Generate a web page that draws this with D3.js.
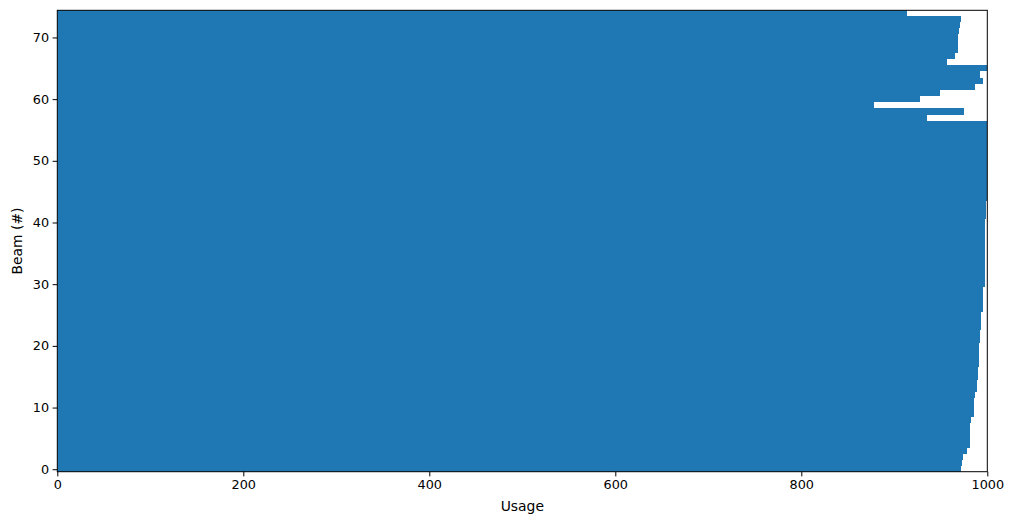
<!DOCTYPE html>
<html>
<head>
<meta charset="utf-8">
<script src="https://cdn.jsdelivr.net/npm/d3@7"></script>
<style>
  body { margin: 0; background: #fff; }
  svg text { font-family: "DejaVu Sans", sans-serif; }
</style>
</head>
<body>
<svg id="chart" width="1014" height="525"></svg>
<script>
// Usage per beam, beam index = position in the array (0..74)
var beams = d3.range(75);
var usage = [
    972, 973, 974, 978, 981, 981, 981, 981, 982, 986,
    986, 986, 987, 989, 989, 990, 990, 991, 991, 991,
    991, 992, 992, 993, 993, 993, 995, 995, 995, 995,
    997, 997, 997, 998, 998, 998, 998, 998, 998, 998,
    998, 999, 999, 999, 1000, 1000, 1000, 1000, 1000, 1000,
    1000, 1000, 1000, 1000, 1000, 1000, 1000, 935, 975, 878,
    928, 949, 987, 995, 992, 1000, 957, 965, 968, 968,
    969, 970, 971, 972, 914
];
var xTicks = [0, 200, 400, 600, 800, 1000];
var yTicks = [0, 10, 20, 30, 40, 50, 60, 70];

var width = 1014, height = 525;
var margin = {top: 10.3, right: 26.7, bottom: 53.3, left: 57.3};
var tickFontSize = '12.8px';
var labelFontSize = '13.9px';
var barColor = '#1f77b4';

var svg = d3.select('#chart');

var x = d3.scaleLinear()
    .domain([0, 1000])
    .range([margin.left, width - margin.right]);
var y = d3.scaleLinear()
    .domain([-0.4, 74.4])
    .range([height - margin.bottom, margin.top]);

// clip bars to the axes box, like matplotlib does
svg.append('defs').append('clipPath')
    .attr('id', 'plot-clip')
    .append('rect')
    .attr('x', margin.left)
    .attr('y', margin.top)
    .attr('width', width - margin.left - margin.right)
    .attr('height', height - margin.top - margin.bottom);

svg.append('g')
    .attr('clip-path', 'url(#plot-clip)')
    .selectAll('rect')
    .data(beams)
    .join('rect')
    .attr('x', x(0))
    .attr('y', function(d) { return y(d + 0.5); })
    .attr('width', function(d) { return x(usage[d]) - x(0); })
    .attr('height', function(d) { return y(d - 0.5) - y(d + 0.5); })
    .attr('fill', barColor)
    .attr('shape-rendering', 'crispEdges');

var xAxis = svg.append('g')
    .attr('transform', 'translate(0,' + (height - margin.bottom) + ')')
    .call(d3.axisBottom(x).tickValues(xTicks).tickFormat(d3.format('d'))
        .tickSizeInner(4.7).tickSizeOuter(0).tickPadding(3.5));
var yAxis = svg.append('g')
    .attr('transform', 'translate(' + margin.left + ',0)')
    .call(d3.axisLeft(y).tickValues(yTicks).tickFormat(d3.format('d'))
        .tickSizeInner(4.7).tickSizeOuter(0).tickPadding(3.5));

[xAxis, yAxis].forEach(function(g) {
    g.select('.domain').remove();
    g.selectAll('.tick line').attr('stroke', '#000').attr('stroke-width', 1);
    g.selectAll('.tick text')
        .attr('fill', '#000')
        .style('font-size', tickFontSize)
        .style('font-family', '"DejaVu Sans", sans-serif');
});

// axes frame
svg.append('rect')
    .attr('x', margin.left)
    .attr('y', margin.top)
    .attr('width', width - margin.left - margin.right)
    .attr('height', height - margin.top - margin.bottom)
    .attr('fill', 'none')
    .attr('stroke', '#000')
    .attr('stroke-width', 1);

svg.append('text')
    .attr('x', (margin.left + width - margin.right) / 2)
    .attr('y', 511)
    .attr('text-anchor', 'middle')
    .style('font-size', labelFontSize)
    .text('Usage');

svg.append('text')
    .attr('transform', 'translate(22,' + ((margin.top + height - margin.bottom) / 2) + ') rotate(-90)')
    .attr('text-anchor', 'middle')
    .style('font-size', labelFontSize)
    .text('Beam (#)');
</script>
</body>
</html>
